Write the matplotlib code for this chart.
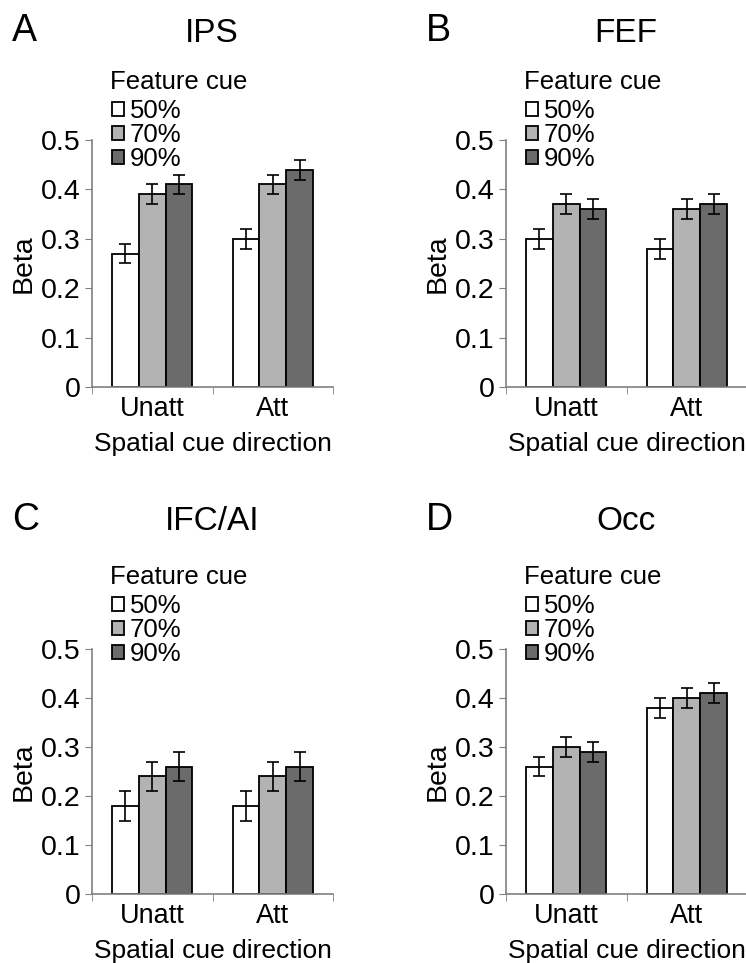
import matplotlib
matplotlib.use("Agg")
import matplotlib.pyplot as plt
import numpy as np

plt.rcParams['font.family'] = ['Liberation Sans', 'DejaVu Sans']

# data
conditions = ["Unatt", "Att"]
cue_levels = ["50%", "70%", "90%"]
bar_colors = ["#ffffff", "#b3b3b3", "#6b6b6b"]

panel_letters = ["A", "B", "C", "D"]
panel_titles = ["IPS", "FEF", "IFC/AI", "Occ"]

# rows: feature cue 50/70/90, columns: Unatt, Att
ips_beta = [[0.27, 0.30], [0.39, 0.41], [0.41, 0.44]]
ips_err = [[0.02, 0.02], [0.02, 0.02], [0.02, 0.02]]
fef_beta = [[0.30, 0.28], [0.37, 0.36], [0.36, 0.37]]
fef_err = [[0.02, 0.02], [0.02, 0.02], [0.02, 0.02]]
ifc_beta = [[0.18, 0.18], [0.24, 0.24], [0.26, 0.26]]
ifc_err = [[0.03, 0.03], [0.03, 0.03], [0.03, 0.03]]
occ_beta = [[0.26, 0.38], [0.30, 0.40], [0.29, 0.41]]
occ_err = [[0.02, 0.02], [0.02, 0.02], [0.02, 0.02]]

all_beta = [ips_beta, fef_beta, ifc_beta, occ_beta]
all_err = [ips_err, fef_err, ifc_err, occ_err]

W, H = 746, 963
fig = plt.figure(figsize=(W / 100, H / 100), dpi=100)

# layout in pixels: axes left, top(0.5 line), right, bottom(0 line)
boxes = [(92, 140, 333, 387), (506, 140, 747, 387),
         (92, 649, 333, 894), (506, 649, 747, 894)]
# y centres of panel letter, panel title, legend title, middle legend row
letter_y = [31, 31, 520, 520]
title_y = [33, 33, 522, 522]
legtitle_y = [82, 82, 577, 577]
legrow_y = [135, 135, 630, 630]

spine_col = "#808080"

def px(xp, yp):
    return xp / W, 1 - yp / H

for k in range(4):
    l, t, r, b = boxes[k]
    ax = fig.add_axes([l / W, 1 - b / H, (r - l) / W, (b - t) / H])
    x = np.arange(len(conditions))
    bw = 0.667 / 3
    for i in range(3):
        ax.bar(x + (i - 1) * bw, all_beta[k][i], width=bw, color=bar_colors[i],
               edgecolor="black", linewidth=1.3, label=cue_levels[i],
               yerr=all_err[k][i], capsize=4,
               error_kw=dict(elinewidth=1.2, capthick=1.2, ecolor="black"))
    ax.set_xlim(-0.5, 1.5)
    ax.set_ylim(0, 0.5)
    ax.set_yticks([0, 0.1, 0.2, 0.3, 0.4, 0.5])
    ax.set_yticklabels(["0", "0.1", "0.2", "0.3", "0.4", "0.5"], fontsize=20.5)
    ax.set_xticks(x)
    ax.set_xticklabels(conditions, fontsize=19.5)
    ax.tick_params(axis="x", length=0, pad=6.5)
    ax.set_xticks([-0.5, 0.5, 1.5], minor=True)
    ax.tick_params(axis="x", which="minor", length=5, direction="out", color=spine_col)
    ax.tick_params(axis="y", length=5, direction="out", color=spine_col, pad=3)
    for s in ["top", "right"]:
        ax.spines[s].set_visible(False)
    for s in ["left", "bottom"]:
        ax.spines[s].set_color(spine_col)
        ax.spines[s].set_linewidth(1.2)
    ax.set_ylabel("Beta", fontsize=20.5)
    ax.yaxis.set_label_coords(-0.23, 0.5)
    ax.set_xlabel("Spatial cue direction", fontsize=19)
    ax.xaxis.set_label_coords(0.5, -0.183)

    ax.legend(loc="center left", bbox_to_anchor=px(l + 20, legrow_y[k]),
              bbox_transform=fig.transFigure, frameon=False,
              fontsize=18.5, handlelength=0.45, handleheight=0.45,
              handletextpad=0.25, labelspacing=0.0, borderpad=0, borderaxespad=0)
    fig.text(*px(l + 18, legtitle_y[k]), "Feature cue", fontsize=18.5,
             va="center", ha="left")

    fig.text(*px(l - 80, letter_y[k]), panel_letters[k],
             fontsize=27, va="center", ha="left")
    fig.text(*px(l + 120, title_y[k]), panel_titles[k],
             fontsize=24, va="center", ha="center")

fig.savefig("out.png", dpi=100)
